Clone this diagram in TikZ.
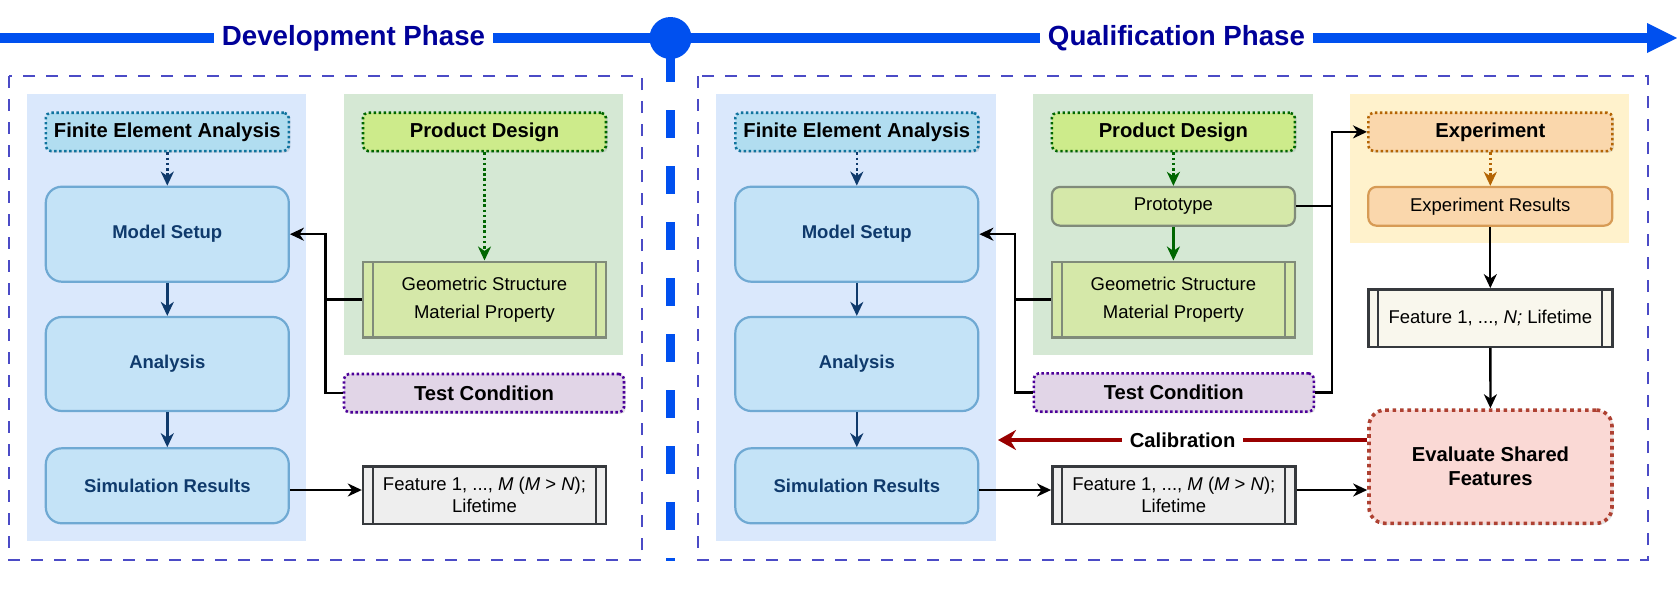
\documentclass[tikz,border=0pt]{standalone}
\usepackage{fontspec}
\setmainfont{Liberation Sans}
\usetikzlibrary{arrows.meta,shadows,calc}

\definecolor{tlblue}{HTML}{0050EF}
\definecolor{phasetxt}{HTML}{000099}
\definecolor{framec}{HTML}{4B4BC6}
\definecolor{bgblue}{HTML}{DAE8FC}
\definecolor{bggreen}{HTML}{D5E8D4}
\definecolor{bgorange}{HTML}{FFF2CC}
\definecolor{feafill}{HTML}{B1DDF0}
\definecolor{feadraw}{HTML}{10739E}
\definecolor{flowfill}{HTML}{C4E3F7}
\definecolor{flowdraw}{HTML}{6FA9D3}
\definecolor{flowtxt}{HTML}{0F3A6C}
\definecolor{pdfill}{HTML}{CDEB8B}
\definecolor{pddraw}{HTML}{006600}
\definecolor{geofill}{HTML}{D5E8A9}
\definecolor{geodraw}{HTML}{808B7A}
\definecolor{tcfill}{HTML}{E1D5E7}
\definecolor{tcdraw}{HTML}{4C0099}
\definecolor{featfill}{HTML}{EEEEEE}
\definecolor{featdraw}{HTML}{36393D}
\definecolor{featnfill}{HTML}{F9F7ED}
\definecolor{expfill}{HTML}{FAD7AC}
\definecolor{expdraw}{HTML}{B46504}
\definecolor{exprdraw}{HTML}{D79B55}
\definecolor{evalfill}{HTML}{FAD9D5}
\definecolor{evaldraw}{HTML}{AE4132}
\definecolor{calibc}{HTML}{990000}

\tikzset{
  titlebox/.style={draw, line width=1.3pt, dash pattern=on 1.2pt off 1.3pt,
    rounded corners=2.5pt, minimum width=121.5pt, minimum height=19.15pt,
    inner sep=0pt, font=\fontsize{10.1pt}{12pt}\selectfont\bfseries,
    drop shadow={shadow xshift=0.8pt, shadow yshift=-0.8pt, opacity=0.22}},
  flowbox/.style={draw=flowdraw, fill=flowfill, line width=1.1pt,
    rounded corners=8pt, minimum width=121.5pt, inner sep=0pt, text=flowtxt,
    font=\fontsize{9.25pt}{11pt}\selectfont\bfseries},
  smallbox/.style={line width=1.1pt, rounded corners=4pt, minimum width=121.5pt,
    minimum height=19.35pt, inner sep=0pt, font=\fontsize{9.25pt}{11pt}\selectfont},
  procbox/.style={draw=#1, line width=1.2pt, minimum width=121.5pt, inner sep=0pt,
    align=center,
    path picture={
      \draw[#1, line width=1.1pt]
        ([xshift=5pt]path picture bounding box.north west) --
        ([xshift=5pt]path picture bounding box.south west);
      \draw[#1, line width=1.1pt]
        ([xshift=-5pt]path picture bounding box.north east) --
        ([xshift=-5pt]path picture bounding box.south east);}},
  conn/.style={draw=black, line width=1.15pt},
  arr/.style={-{Stealth[length=7pt,width=6.5pt,inset=2.2pt]}},
  dotline/.style={dash pattern=on 1.3pt off 1.3pt},
  phase/.style={fill=white, inner xsep=4pt, inner ysep=1pt, text=phasetxt,
    font=\fontsize{13.85pt}{16pt}\selectfont\bfseries},
  frame/.style={draw=framec, line width=0.6pt, dash pattern=on 6pt off 5.5pt},
}

\begin{document}
\begin{tikzpicture}[x=0.5pt,y=-0.5pt]
\useasboundingbox (0,0) rectangle (1677,600);
\fill[white] (0,0) rectangle (1677,600);

% ---- timeline ----
\draw[tlblue, line width=4.5pt, dash pattern=on 14pt off 14pt] (670.5,54) -- (670.5,561);
\draw[tlblue, line width=5pt] (0,38) -- (1648,38);
\fill[tlblue] (1647,23) -- (1677,38) -- (1647,53) -- cycle;
\fill[tlblue] (670.5,38) circle[radius=10.5pt];
\node[phase] (devph) at (353.5,38) {Development Phase};
\node[phase] (qualph) at (1176.5,38) {Qualification Phase};

% ---- frames ----
\draw[frame] (9,76) rectangle (642,560);
\draw[frame] (698,76) rectangle (1648,560);

% ---- backgrounds ----
\fill[bgblue] (27,94) rectangle (306,541);
\fill[bggreen] (344,94) rectangle (623,355);
\fill[bgblue] (716,94) rectangle (996,541);
\fill[bggreen] (1033,94) rectangle (1313,354.5);
\fill[bgorange] (1350,94) rectangle (1629,242.7);

% ---- left panel ----
\node[titlebox, draw=feadraw, fill=feafill] (fea1) at (167.3,131.9) {Finite Element Analysis};
\node[flowbox, minimum height=47.5pt] (ms1) at (167.3,234.2) {Model Setup};
\node[flowbox, minimum height=47pt] (an1) at (167.3,364) {Analysis};
\node[flowbox, minimum height=37.5pt] (sim1) at (167.3,485.8) {Simulation Results};
\node[titlebox, draw=pddraw, fill=pdfill] (pd1) at (484.5,131.9) {Product Design};
\node[procbox=geodraw, fill=geofill, minimum height=37.8pt,
  font=\fontsize{9.25pt}{13.8pt}\selectfont] (geo1) at (484.5,299.5)
  {Geometric Structure\\Material Property};
\node[titlebox, draw=tcdraw, fill=tcfill, minimum width=140pt] (tc1) at (484,393.1) {Test Condition};
\node[procbox=featdraw, fill=featfill, minimum height=28.65pt,
  font=\fontsize{9.25pt}{11pt}\selectfont] (feat1) at (484.5,495.3)
  {Feature 1, ..., \textit{M} (\textit{M} > \textit{N});\\Lifetime};

\coordinate (j1) at (325.5,0);
\coordinate (y490) at (0,490);
\coordinate (y440) at (0,440);

\draw[flowtxt, line width=1.2pt, dotline, arr] (fea1) -- (ms1);
\draw[flowtxt, line width=1.2pt, arr] (ms1) -- (an1);
\draw[flowtxt, line width=1.2pt, arr] (an1) -- (sim1);
\draw[pddraw, line width=1.2pt, dotline, arr] (pd1) -- (geo1);
\draw[conn, arr] (geo1.west) -- (geo1.west -| j1) |- (ms1.east);
\draw[conn] (tc1.west) -- (tc1.west -| j1) -- (geo1.west -| j1);
\draw[conn, arr] (sim1.east |- y490) -- (feat1.west |- y490);

% ---- right panel ----
\node[titlebox, draw=feadraw, fill=feafill] (fea2) at (856.8,131.9) {Finite Element Analysis};
\node[flowbox, minimum height=47.5pt] (ms2) at (856.8,234.2) {Model Setup};
\node[flowbox, minimum height=47pt] (an2) at (856.8,364) {Analysis};
\node[flowbox, minimum height=37.5pt] (sim2) at (856.8,485.8) {Simulation Results};
\node[titlebox, draw=pddraw, fill=pdfill] (pd2) at (1173.4,131.9) {Product Design};
\node[smallbox, draw=geodraw, fill=geofill] (proto) at (1173.4,206.3) {Prototype};
\node[procbox=geodraw, fill=geofill, minimum height=37.8pt,
  font=\fontsize{9.25pt}{13.8pt}\selectfont] (geo2) at (1173.4,299.5)
  {Geometric Structure\\Material Property};
\node[titlebox, draw=tcdraw, fill=tcfill, minimum width=140pt] (tc2) at (1173.8,392.5) {Test Condition};
\node[procbox=featdraw, fill=featfill, minimum height=28.65pt,
  font=\fontsize{9.25pt}{11pt}\selectfont] (featM) at (1173.8,495.3)
  {Feature 1, ..., \textit{M} (\textit{M} > \textit{N});\\Lifetime};

\node[titlebox, draw=expdraw, fill=expfill, minimum width=122pt] (exp) at (1490.3,131.9) {Experiment};
\node[smallbox, draw=exprdraw, fill=expfill, minimum width=122pt] (expres) at (1490.3,206.3) {Experiment Results};
\node[procbox=featdraw, fill=featnfill, minimum width=122pt, minimum height=28.7pt,
  font=\fontsize{9.25pt}{11pt}\selectfont] (featN) at (1490.3,318)
  {Feature 1, ..., \textit{N;} Lifetime};
\node[draw=evaldraw, fill=evalfill, line width=1.8pt, dash pattern=on 1.8pt off 1.9pt,
  rounded corners=8pt, minimum width=121.5pt, minimum height=56.65pt, inner sep=0pt,
  align=center, font=\fontsize{10.1pt}{12pt}\selectfont\bfseries,
  drop shadow={shadow xshift=0.8pt, shadow yshift=-0.8pt, opacity=0.22}]
  (eval) at (1490.5,466.7) {Evaluate Shared\\Features};

\coordinate (j2) at (1015.3,0);
\coordinate (j3) at (1331.7,0);
\coordinate (calend) at (998,440);

\draw[flowtxt, line width=1.2pt, dotline, arr] (fea2) -- (ms2);
\draw[flowtxt, line width=1.2pt, arr] (ms2) -- (an2);
\draw[flowtxt, line width=1.2pt, arr] (an2) -- (sim2);
\draw[pddraw, line width=1.2pt, dotline, arr] (pd2) -- (proto);
\draw[pddraw, line width=1.2pt, arr] (proto) -- (geo2);
\draw[conn, arr] (geo2.west) -- (geo2.west -| j2) |- (ms2.east);
\draw[conn] (tc2.west) -- (tc2.west -| j2) -- (geo2.west -| j2);
\draw[conn, arr] (tc2.east) -- (tc2.east -| j3) |- (exp.west);
\draw[conn] (proto.east) -- (proto.east -| j3);
\draw[expdraw, line width=1.2pt, dotline, arr] (exp) -- (expres);
\draw[conn, arr] (expres) -- (featN);
\draw[conn, arr] (featN) -- (eval);
\draw[conn, arr] (sim2.east |- y490) -- (featM.west |- y490);
\draw[conn, arr] (featM.east |- y490) -- (eval.west |- y490);
\draw[calibc, line width=2.4pt, -{Stealth[length=9pt,width=10pt,inset=3pt]}]
  (eval.west |- y440) -- node[fill=white, inner xsep=4pt, inner ysep=1pt, text=black,
  font=\fontsize{10.1pt}{12pt}\selectfont\bfseries] (calib) {Calibration} (calend);
\end{tikzpicture}
\end{document}
